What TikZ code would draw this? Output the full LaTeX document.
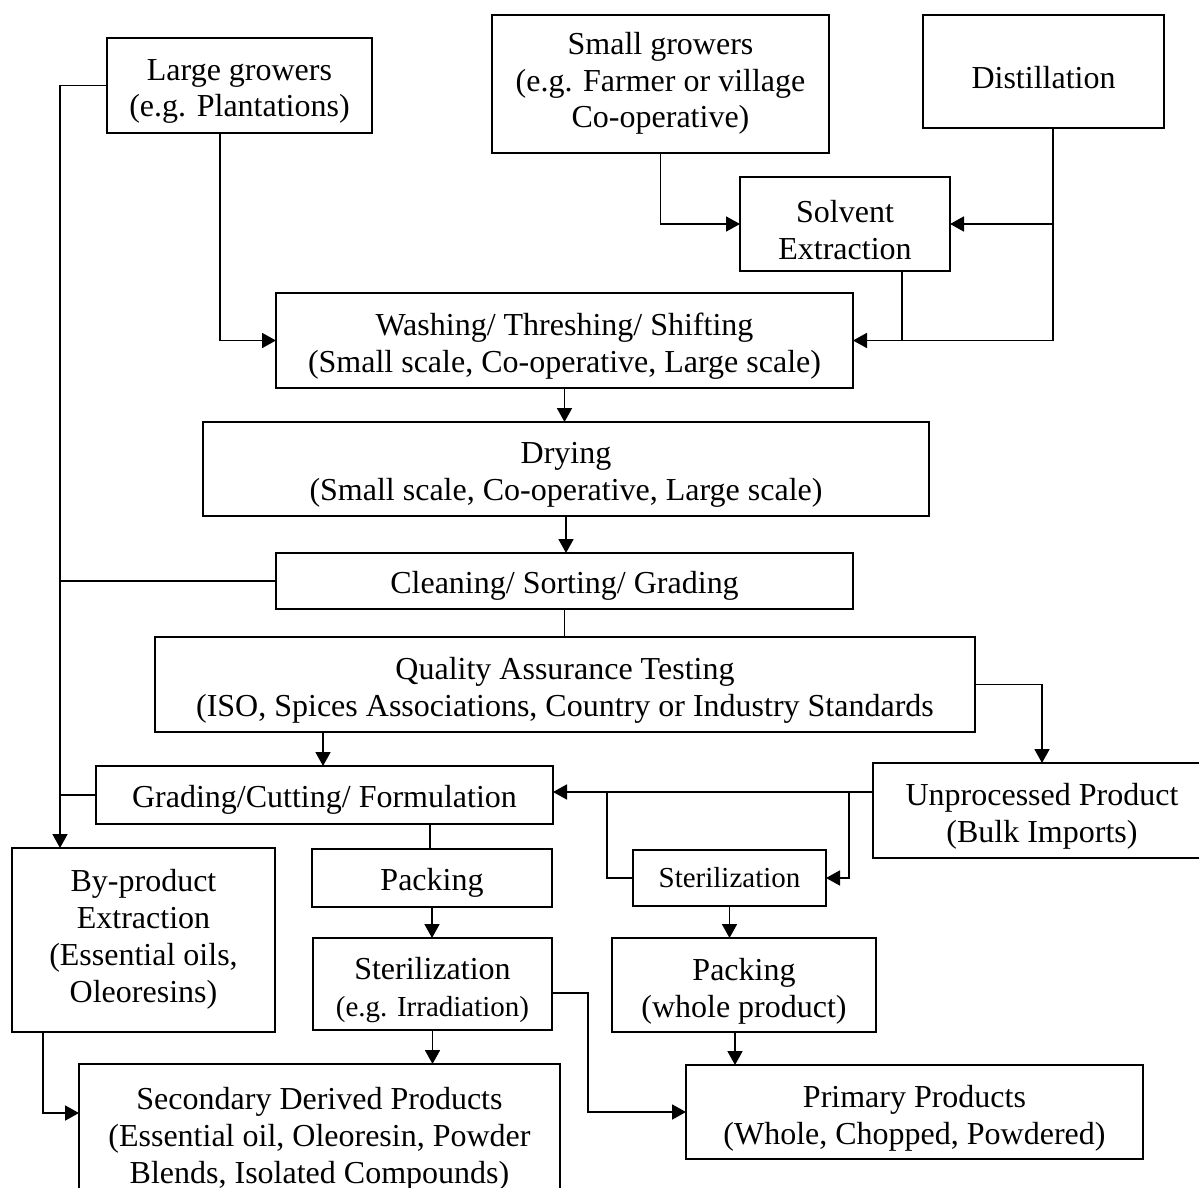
\documentclass[tikz,border=0pt]{standalone}
\usepackage{fontspec}
\setmainfont{Liberation Serif}
\usetikzlibrary{arrows.meta}
\tikzset{
  box/.style={draw, line width=1.8pt, inner sep=0pt, outer sep=0pt, align=center,
    font=\fontsize{32}{36.8}\selectfont},
  txt/.style={inner sep=0pt, align=center, font=\fontsize{32}{36.8}\selectfont},
  dn/.style={label={[txt, yshift=-6pt]center:{#1}}},
  ml/.style={execute at begin node={\rule{0pt}{30pt}}, execute at end node={\rule[-8pt]{0pt}{8pt}}},
  sl/.style={execute at begin node={\rule[-7pt]{0pt}{38pt}}},
  conn/.style={line width=1.8pt},
  arr/.style={conn, -{Triangle[length=14pt,width=15pt]}}
}
\newcommand\smallfs{\fontsize{29}{34}\selectfont}
\begin{document}
\begin{tikzpicture}[x=1pt,y=-1pt]
\useasboundingbox (0,0) rectangle (1199,1188);
\clip (0,0) rectangle (1199,1188);
\fill[white] (0,0) rectangle (1199,1188);
% boxes
\node[box, minimum width=265, minimum height=95, dn={Large growers\\(e.g. Plantations)}] (lg) at (239.5,85.5) {};
\node[box, ml, minimum width=337, minimum height=138] (sg) at (660.5,84) {Small growers\\(e.g. Farmer or village\\Co-operative)};
\node[box, minimum width=241, minimum height=113, dn={Distillation}] (di) at (1043.5,71.5) {};
\node[box, minimum width=210, minimum height=94, dn={Solvent\\Extraction}] (se) at (845,224) {};
\node[box, minimum width=577, minimum height=95, dn={Washing/ Threshing/ Shifting\\(Small scale, Co-operative, Large scale)}] (wa) at (564.5,340.5) {};
\node[box, minimum width=726, minimum height=94, dn={Drying\\(Small scale, Co-operative, Large scale)}] (dr) at (566,469) {};
\node[box, sl, minimum width=577, minimum height=56] (cl) at (564.5,581) {Cleaning/ Sorting/ Grading};
\node[box, minimum width=820, minimum height=95, dn={Quality Assurance Testing\\(ISO, Spices Associations, Country or Industry Standards}] (qa) at (565,684.5) {};
\node[box, sl, minimum width=457, minimum height=58] (gr) at (324.5,795) {Grading/Cutting/ Formulation};
\node[box, minimum width=338, minimum height=95, dn={Unprocessed Product\\(Bulk Imports)}] (up) at (1042,810.5) {};
\node[box, ml, minimum width=263, minimum height=184] (bp) at (143.5,940) {By-product\\Extraction\\(Essential oils,\\Oleoresins)};
\node[box, sl, minimum width=240, minimum height=58] (pk1) at (432,878) {Packing};
\node[box, minimum width=193, minimum height=56, font=\smallfs] (st1) at (729.5,878) {Sterilization};
\node[box, minimum width=239, minimum height=92, dn={Sterilization\\{\smallfs(e.g. Irradiation)}}] (st2) at (432.5,984) {};
\node[box, minimum width=264, minimum height=94, dn={Packing\\(whole product)}] (pk2) at (744,985) {};
\node[box, minimum width=481, minimum height=137, dn={Secondary Derived Products\\(Essential oil, Oleoresin, Powder\\Blends, Isolated Compounds)}] (sd) at (319.5,1132.5) {};
\node[box, minimum width=457, minimum height=94, dn={Primary Products\\(Whole, Chopped, Powdered)}] (pp) at (914.5,1112) {};
% helper coordinates
\coordinate (trunk) at (60,0);
\coordinate (dx) at (1053,0);
\path ([xshift=-19.5pt]lg.south) coordinate (lgs);
\path ([xshift=9.5pt]di.south) coordinate (dis);
\path ([xshift=57pt]se.south) coordinate (ses);
\path ([xshift=-242pt]qa.south) coordinate (qas);
\path ([yshift=18.5pt]up.west) coordinate (upw);
\coordinate (ux) at (849,792);
\coordinate (sx) at (607,792);
\path ([xshift=105.5pt]gr.south) coordinate (grs);
\path ([yshift=-9pt]st2.east) coordinate (st2e);
\path ([xshift=-9pt]pk2.south) coordinate (pk2s);
\path ([xshift=-100.5pt]bp.south) coordinate (bps);
\path ([yshift=19.5pt]sd.west) coordinate (sdw);
\path ([xshift=-83.5pt]bp.north) coordinate (bpn);
% connectors
\draw[arr] (lg.west) -| (bpn);
\draw[conn] (cl.west) -- (cl.west -| trunk);
\draw[conn] (gr.west) -- (gr.west -| trunk);
\draw[arr] (lgs) |- (wa.west);
\draw[arr] (sg.south) |- (se.west);
\draw[arr] (dis) |- (wa.east);
\draw[arr] (se.east -| dx) -- (se.east);
\draw[conn] (ses) -- (ses |- wa.east);
\draw[arr] (wa.south) -- (wa.south |- dr.north);
\draw[arr] (dr.south) -- (dr.south |- cl.north);
\draw[conn] (cl.south) -- (cl.south |- qa.north);
\draw[arr] (qas) -- (qas |- gr.north);
\draw[arr] (qa.east) -| (up.north);
\draw[arr] (upw) -- (upw -| gr.east);
\draw[arr] (ux) |- (st1.east);
\draw[conn] (st1.west) -| (sx);
\draw[conn] (grs) -- (grs |- pk1.north);
\draw[arr] (pk1.south) -- (pk1.south |- st2.north);
\draw[arr] (st2.south) -- (st2.south |- sd.north);
\draw[arr] (st2e) -- ++(36,0) |- (pp.west);
\draw[arr] (st1.south) -- (st1.south |- pk2.north);
\draw[arr] (pk2s) -- (pk2s |- pp.north);
\draw[arr] (bps) |- (sdw);
\end{tikzpicture}
\end{document}
